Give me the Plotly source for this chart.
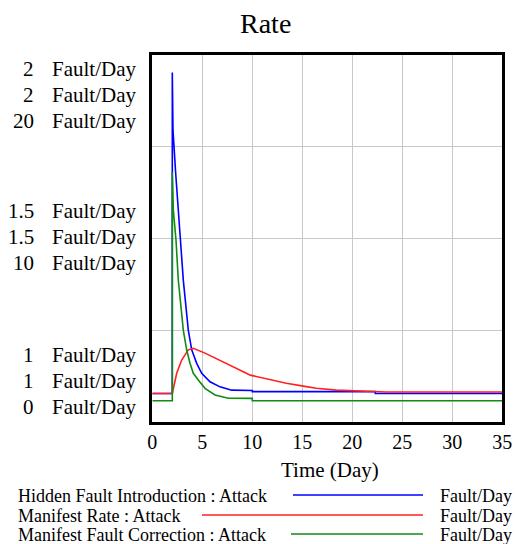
import plotly.graph_objects as go

W, H = 516, 544

# ---------------- data ----------------
time_hidden = [0, 2, 2, 2.07, 2.34, 2.77, 3.1, 3.6, 3.94, 4.44, 4.94, 5.77, 6.77, 7.94, 10, 10, 22.3, 22.3, 35]
hidden_intro = [1.077, 1.077, 1.952, 1.795, 1.677, 1.495, 1.386, 1.25, 1.196, 1.159, 1.132, 1.109, 1.095, 1.086,
                1.085, 1.082, 1.082, 1.077, 1.077]

time_manifest = [0, 2, 2.44, 2.94, 3.6, 4.1, 5.27, 6.94, 9.1, 9.8, 11.8, 13.4, 15.1, 16.4, 18.4, 21, 23.4, 35]
manifest_rate = [1.077, 1.077, 1.132, 1.168, 1.196, 1.2, 1.187, 1.164, 1.136, 1.127, 1.114, 1.105, 1.097,
                 1.091, 1.086, 1.084, 1.081, 1.081]

time_correction = [0, 2, 2, 2.1, 2.37, 2.6, 3.1, 3.44, 3.77, 4.1, 4.6, 5.27, 6.27, 7.6, 10, 10, 35]
manifest_correction = [1.145, 1.145, 13.6, 11.55, 9.91, 7.73, 5.0, 3.91, 3.19, 2.64, 2.27, 1.82, 1.46, 1.28,
                       1.27, 1.145, 1.145]

series_names = ["Hidden Fault Introduction : Attack",
                "Manifest Rate : Attack",
                "Manifest Fault Correction : Attack"]
series_colors = ["#0000ff", "#ff2020", "#138a13"]
series_axes = ["y", "y2", "y3"]
unit = "Fault/Day"

# axis scales and tick labels (bottom, middle, top) per series
hidden_ticks = [1, 1.5, 2]
manifest_ticks = [1, 1.5, 2]
correction_ticks = [0, 10, 20]
hidden_tick_text = ["1", "1.5", "2"]
manifest_tick_text = ["1", "1.5", "2"]
correction_tick_text = ["0", "10", "20"]

x_ticks = [0, 5, 10, 15, 20, 25, 30, 35]
title_text = "Rate"
x_title = "Time (Day)"

# ---------------- layout helpers ----------------
FONT = "Liberation Serif"
def px_x(p):
    return p / W
def px_y(p):
    return (H - p) / H

plot_left, plot_right = 152.3, 502.3
plot_top, plot_bottom = 55.0, 421.7

fig = go.Figure()
xs = [time_hidden, time_manifest, time_correction]
ys = [hidden_intro, manifest_rate, manifest_correction]
for i in range(3):
    fig.add_trace(go.Scatter(x=xs[i], y=ys[i], mode="lines", name=series_names[i],
                             line=dict(color=series_colors[i], width=1.6),
                             yaxis=series_axes[i], showlegend=False))

axis_common = dict(showline=True, mirror=True, linewidth=3, linecolor="black",
                   zeroline=False, ticks="", automargin=False)
fig.update_layout(
    width=W, height=H,
    margin=dict(l=0, r=0, t=0, b=0, autoexpand=False),
    paper_bgcolor="white", plot_bgcolor="white",
    font=dict(family=FONT, color="black"),
    xaxis=dict(domain=[px_x(plot_left), px_x(plot_right)], range=[0, 35],
               tickvals=x_ticks, showgrid=True, gridcolor="#c8c8c8", gridwidth=1,
               tickfont=dict(size=20, family=FONT), **axis_common),
    yaxis=dict(domain=[px_y(plot_bottom), px_y(plot_top)], range=[hidden_ticks[0], hidden_ticks[-1]],
               dtick=0.25, showgrid=True, gridcolor="#c8c8c8", gridwidth=1,
               showticklabels=False, **axis_common),
    yaxis2=dict(overlaying="y", range=[manifest_ticks[0], manifest_ticks[-1]], visible=False),
    yaxis3=dict(overlaying="y", range=[correction_ticks[0], correction_ticks[-1]], visible=False),
)

annotations = []
annotations.append(dict(text=title_text, x=px_x(265), y=px_y(24), xref="paper", yref="paper",
                        showarrow=False, xanchor="center", yanchor="middle",
                        font=dict(size=28, family=FONT)))
annotations.append(dict(text=x_title, x=px_x(330), y=px_y(470), xref="paper", yref="paper",
                        showarrow=False, xanchor="center", yanchor="middle",
                        font=dict(size=21, family=FONT)))

tick_sets = [(hidden_ticks, hidden_tick_text), (manifest_ticks, manifest_tick_text),
             (correction_ticks, correction_tick_text)]
for i, (vals, texts) in enumerate(tick_sets):
    for j, (v, t) in enumerate(zip(vals, texts)):
        if j == 0:
            shift = 66.7 - 26 * i
        elif j == 1:
            shift = 27 - 26 * i
        else:
            shift = -14 - 26 * i
        annotations.append(dict(text=t, x=px_x(36), y=v, xref="paper", yref=series_axes[i],
                                yshift=shift, showarrow=False, xanchor="right", yanchor="middle",
                                font=dict(size=21, family=FONT)))
        annotations.append(dict(text=unit, x=px_x(50), y=v, xref="paper", yref=series_axes[i],
                                yshift=shift, showarrow=False, xanchor="left", yanchor="middle",
                                font=dict(size=21, family=FONT)))

legend_rows = [496, 516, 535]
legend_line_start = [293, 202, 291]
shapes = []
for i in range(3):
    annotations.append(dict(text=series_names[i], x=px_x(16), y=px_y(legend_rows[i]),
                            xref="paper", yref="paper", showarrow=False,
                            xanchor="left", yanchor="middle", font=dict(size=18, family=FONT)))
    annotations.append(dict(text=unit, x=px_x(514), y=px_y(legend_rows[i]),
                            xref="paper", yref="paper", showarrow=False,
                            xanchor="right", yanchor="middle", font=dict(size=18, family=FONT)))
    shapes.append(dict(type="line", xref="paper", yref="paper",
                       x0=px_x(legend_line_start[i]), x1=px_x(423),
                       y0=px_y(legend_rows[i] - 1), y1=px_y(legend_rows[i] - 1),
                       line=dict(color=series_colors[i], width=1.6)))

fig.update_layout(annotations=annotations, shapes=shapes)
fig.write_html("out.html")
